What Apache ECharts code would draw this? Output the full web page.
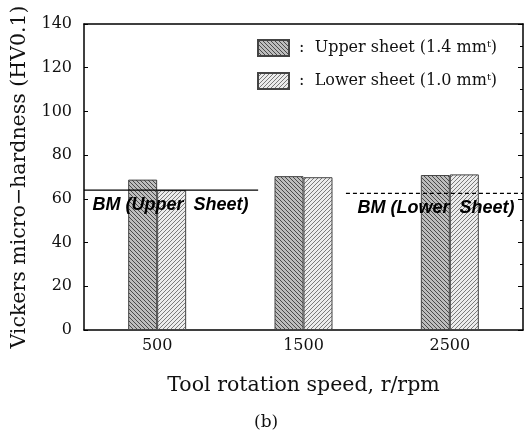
<!DOCTYPE html>
<html>
<head>
<meta charset="utf-8">
<script src="https://cdn.jsdelivr.net/npm/echarts@6/dist/echarts.min.js"></script>
<style>html,body{margin:0;padding:0;background:#fff;}#c{width:528px;height:433px;}</style>
</head>
<body>
<div id="c"></div>
<script>
// ---- data ----
var categories = ['500', '1500', '2500'];
var upperSheet = [68.8, 70.4, 70.9];
var lowerSheet = [64.0, 69.9, 71.2];
var seriesNames = ['Upper sheet (1.4 mm\u1D57)', 'Lower sheet (1.0 mm\u1D57)'];
var bmUpperValue = 64;
var bmLowerValue = 62.5;
var bmUpperSpan = [0, 1.19];   // in category-band units
var bmLowerSpan = [1.79, 3];
var yTicks = [0, 20, 40, 60, 80, 100, 120, 140];

function hatch(bg, fg, backslash) {
  var c = document.createElement('canvas');
  c.width = 4; c.height = 4;
  var g = c.getContext('2d');
  g.fillStyle = bg; g.fillRect(0, 0, 4, 4);
  g.fillStyle = fg;
  for (var i = 0; i < 4; i++) {
    if (backslash) g.fillRect(i, i, 1, 1); else g.fillRect(3 - i, i, 1, 1);
  }
  return { image: c, repeat: 'repeat' };
}
var upperPattern = hatch('#bdbdbd', '#4a4a4a', true);
var lowerPattern = hatch('#ececec', '#7a7a7a', false);

var serif = 'DejaVu Serif';
var bmLabelStyle = {
  fontFamily: 'Liberation Sans', fontStyle: 'italic', fontWeight: 'bold',
  fontSize: 18, color: '#000'
};
var chart = echarts.init(document.getElementById('c'), null, { renderer: 'canvas' });
chart.setOption({
  animation: false,
  backgroundColor: '#fff',
  grid: { left: 84, right: 5, top: 24, bottom: 103, outerBoundsMode: 'none', containLabel: false },
  title: {
    text: '(b)', left: 254, top: 414, padding: 0,
    textStyle: { fontFamily: serif, fontSize: 17, fontWeight: 'normal', color: '#111' }
  },
  legend: {
    data: seriesNames,
    orient: 'vertical',
    left: 257, top: 39, padding: 0,
    itemWidth: 31, itemHeight: 16, itemGap: 15,
    icon: 'rect',
    formatter: function (n) { return ' :  ' + n; },
    textStyle: { fontFamily: serif, fontSize: 16, color: '#111' }
  },
  xAxis: [{
    type: 'category', data: categories,
    axisLine: { lineStyle: { color: '#000', width: 1.5 } },
    axisTick: { show: false },
    axisLabel: { fontFamily: serif, fontSize: 16, color: '#111', margin: 8 },
    name: 'Tool rotation speed, r/rpm', nameLocation: 'middle', nameGap: 45,
    nameTextStyle: { fontFamily: serif, fontSize: 20.5, color: '#111' }
  }, {
    type: 'value', min: 0, max: 3, position: 'top',
    axisLine: { show: true, onZero: false, lineStyle: { color: '#000', width: 1.5 } },
    axisTick: { show: false }, axisLabel: { show: false }, splitLine: { show: false }
  }],
  yAxis: [{
    type: 'value', min: 0, max: 140, interval: 20,
    axisLine: { show: true, lineStyle: { color: '#000', width: 1.5 } },
    axisTick: { show: true, inside: true, length: 4, lineStyle: { color: '#000' } },
    axisLabel: { fontFamily: serif, fontSize: 16, color: '#111', margin: 12 },
    splitLine: { show: false },
    name: 'Vickers micro\u2212hardness (HV0.1)', nameLocation: 'middle', nameGap: 50,
    nameTextStyle: { fontFamily: serif, fontSize: 20.5, color: '#111' }
  }, {
    type: 'value', min: 0, max: 140, interval: 20, position: 'right',
    axisLine: { show: true, lineStyle: { color: '#000', width: 1.5 } },
    axisTick: { show: true, inside: true, length: 5, lineStyle: { color: '#000' } },
    minorTick: { show: true, splitNumber: 2, length: 3, lineStyle: { color: '#000' } },
    axisLabel: { show: false }, splitLine: { show: false }
  }],
  series: [{
    name: seriesNames[0], type: 'bar', data: upperSheet,
    barWidth: 29, barGap: '0%',
    itemStyle: { color: upperPattern, borderColor: '#444', borderWidth: 1 }
  }, {
    name: seriesNames[1], type: 'bar', data: lowerSheet,
    barWidth: 29,
    itemStyle: { color: lowerPattern, borderColor: '#444', borderWidth: 1 }
  }, {
    name: 'BM upper', type: 'line', xAxisIndex: 1, yAxisIndex: 0,
    symbol: 'none', silent: true,
    lineStyle: { color: '#000', width: 1.2, type: 'solid' },
    data: [[bmUpperSpan[0], bmUpperValue], [bmUpperSpan[1], bmUpperValue]]
  }, {
    name: 'BM lower', type: 'line', xAxisIndex: 1, yAxisIndex: 0,
    symbol: 'none', silent: true,
    lineStyle: { color: '#000', width: 1.2, type: [4, 3] },
    data: [[bmLowerSpan[0], bmLowerValue], [bmLowerSpan[1], bmLowerValue]]
  }, {
    name: 'BM labels', type: 'scatter', xAxisIndex: 1, yAxisIndex: 0,
    symbolSize: 1, silent: true,
    itemStyle: { color: 'rgba(0,0,0,0)', opacity: 1 },
    data: [{
      value: [bmUpperSpan[0], bmUpperValue],
      label: Object.assign({ show: true, formatter: 'BM (Upper  Sheet)', position: 'right', offset: [3, 15] }, bmLabelStyle)
    }, {
      value: [bmLowerSpan[1], bmLowerValue],
      label: Object.assign({ show: true, formatter: 'BM (Lower  Sheet)', position: 'left', offset: [-3, 15] }, bmLabelStyle)
    }]
  }]
});
</script>
</body>
</html>
